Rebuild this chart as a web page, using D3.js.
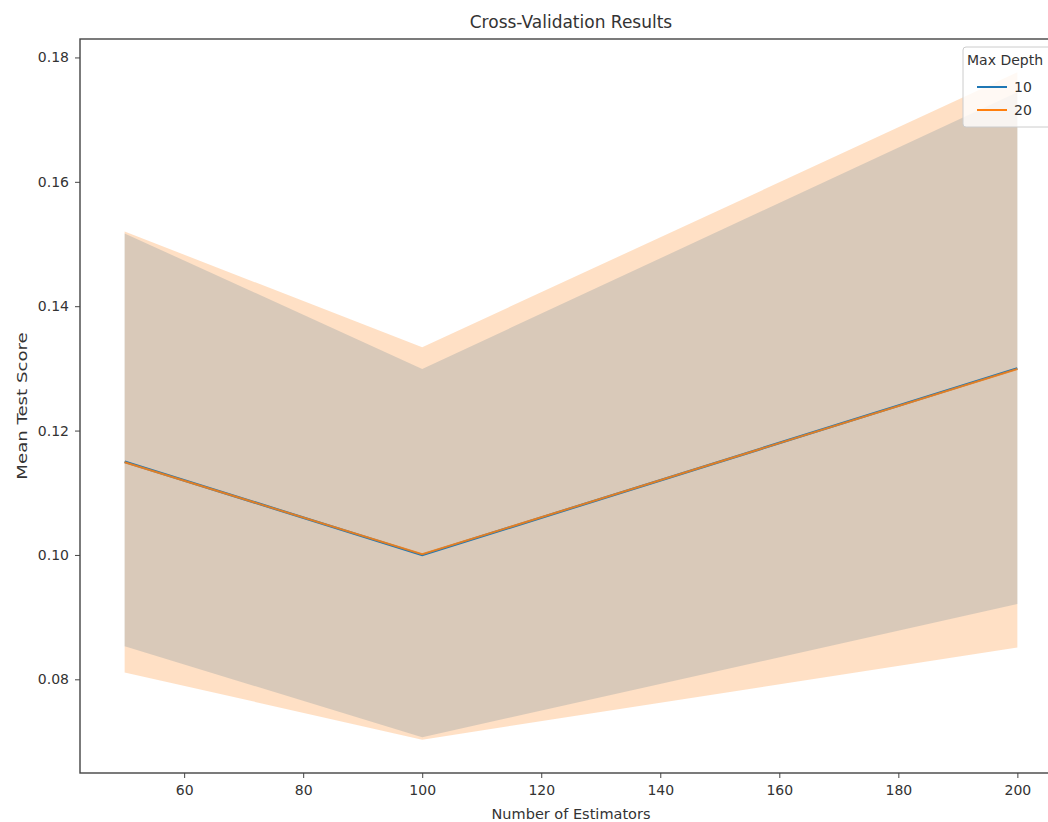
<!DOCTYPE html>
<html>
<head>
<meta charset="utf-8">
<script src="https://cdn.jsdelivr.net/npm/d3@7"></script>
<style>
  body { margin: 0; background: #fff; }
  text { font-family: "DejaVu Sans", sans-serif; fill: #333; }
</style>
</head>
<body>
<svg width="1048" height="822"></svg>
<script>
// Values
var estimators = [50, 100, 200];
var depthLabels = ['10', '20'];
var mean10 = [0.1150, 0.1000, 0.1300];
var lower10 = [0.0853, 0.0707, 0.0921];
var upper10 = [0.1517, 0.1299, 0.1744];
var mean20 = [0.1149, 0.1001, 0.1299];
var lower20 = [0.0811, 0.0703, 0.0851];
var upper20 = [0.1520, 0.1334, 0.1776];
var xTicks = [60, 80, 100, 120, 140, 160, 180, 200];
var yTicks = [0.08, 0.10, 0.12, 0.14, 0.16, 0.18];

var svg = d3.select('svg');

// plot area (right edge runs past the picture, as in the reference)
var plot = {l: 80, t: 39, r: 1062, b: 773};

var colors = ['#1f77b4', '#ff7f0e'];

var series = [
    {name: depthLabels[0], mean: mean10, lo: lower10, hi: upper10},
    {name: depthLabels[1], mean: mean20, lo: lower20, hi: upper20}
];

// matplotlib style 5% margins
var xExt = d3.extent(estimators);
var xPad = (xExt[1] - xExt[0]) * 0.05;
var yMin = d3.min(lower10.concat(lower20));
var yMax = d3.max(upper10.concat(upper20));
var yPad = (yMax - yMin) * 0.05;

var xScale = d3.scaleLinear()
    .domain([xExt[0] - xPad, xExt[1] + xPad])
    .range([plot.l, plot.r]);
var yScale = d3.scaleLinear()
    .domain([yMin - yPad, yMax + yPad])
    .range([plot.b, plot.t]);

var area = d3.area()
    .x(function(d) { return xScale(d.x); })
    .y0(function(d) { return yScale(d.lo); })
    .y1(function(d) { return yScale(d.hi); });

var line = d3.line()
    .x(function(d) { return xScale(d.x); })
    .y(function(d) { return yScale(d.y); });

var bandG = svg.append('g');
var lineG = svg.append('g');

series.forEach(function(s, i) {
    var pts = estimators.map(function(x, j) {
        return {x: x, y: s.mean[j], lo: s.lo[j], hi: s.hi[j]};
    });
    bandG.append('path')
        .datum(pts)
        .attr('d', area)
        .attr('fill', colors[i])
        .attr('fill-opacity', i === 0 ? 0.22 : 0.24);
    lineG.append('path')
        .datum(pts)
        .attr('d', line)
        .attr('fill', 'none')
        .attr('stroke', colors[i])
        .attr('stroke-width', i === 0 ? 2.6 : 2)
        .attr('stroke-opacity', i === 0 ? 1 : 0.85);
});

// axes
var xAxis = d3.axisBottom(xScale).tickValues(xTicks).tickSize(5).tickPadding(7);
var yAxis = d3.axisLeft(yScale).tickValues(yTicks).tickSize(5).tickPadding(6)
    .tickFormat(d3.format('.2f'));

var xAxisG = svg.append('g')
    .attr('transform', 'translate(0,' + plot.b + ')')
    .call(xAxis);
var yAxisG = svg.append('g')
    .attr('transform', 'translate(' + plot.l + ',0)')
    .call(yAxis);

[xAxisG, yAxisG].forEach(function(g) {
    g.select('.domain').remove();
    g.selectAll('.tick line').attr('stroke', '#444');
    g.selectAll('.tick text')
        .style('font-family', '"DejaVu Sans", sans-serif')
        .style('font-size', '14px')
        .attr('fill', '#333');
});

// spines
svg.append('rect')
    .attr('x', plot.l)
    .attr('y', plot.t)
    .attr('width', plot.r - plot.l)
    .attr('height', plot.b - plot.t)
    .attr('fill', 'none')
    .attr('stroke', '#444')
    .attr('stroke-width', 1.4);

// titles
svg.append('text')
    .attr('x', (plot.l + plot.r) / 2)
    .attr('y', 28)
    .attr('text-anchor', 'middle')
    .style('font-size', '17px')
    .text('Cross-Validation Results');

svg.append('text')
    .attr('x', (plot.l + plot.r) / 2)
    .attr('y', 819)
    .attr('text-anchor', 'middle')
    .style('font-size', '14.5px')
    .text('Number of Estimators');

svg.append('text')
    .attr('transform', 'translate(27,' + ((plot.t + plot.b) / 2) + ') rotate(-90) scale(1.25,1)')
    .attr('text-anchor', 'middle')
    .style('font-size', '14.5px')
    .text('Mean Test Score');

// legend
var legend = svg.append('g').attr('transform', 'translate(963,47)');
legend.append('rect')
    .attr('width', 100)
    .attr('height', 80)
    .attr('rx', 3)
    .attr('fill', '#fff')
    .attr('fill-opacity', 0.8)
    .attr('stroke', '#ccc');
legend.append('text')
    .attr('x', 4)
    .attr('y', 18)
    .style('font-size', '14px')
    .text('Max Depth');

var items = legend.selectAll('.item')
    .data(series)
    .enter().append('g')
    .attr('class', 'item')
    .attr('transform', function(d, i) { return 'translate(0,' + (40 + i * 23) + ')'; });
items.append('line')
    .attr('x1', 14).attr('x2', 44)
    .attr('stroke', function(d, i) { return colors[i]; })
    .attr('stroke-width', 2);
items.append('text')
    .attr('x', 51)
    .attr('dy', '0.35em')
    .style('font-size', '14px')
    .text(function(d) { return d.name; });
</script>
</body>
</html>
